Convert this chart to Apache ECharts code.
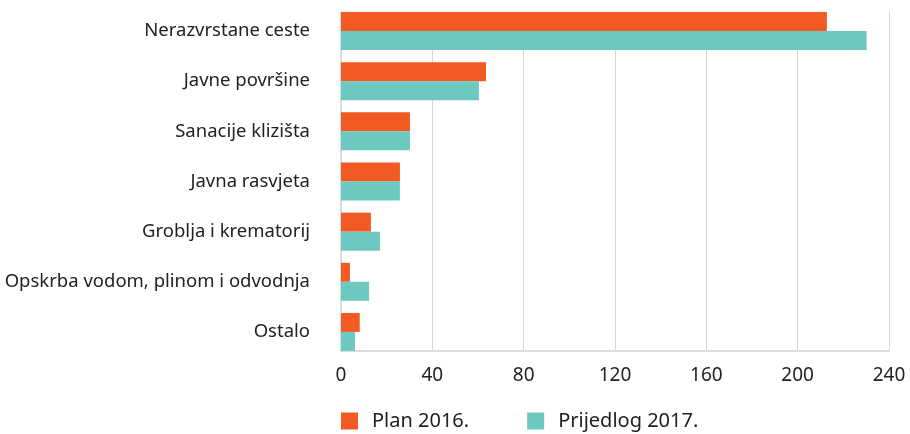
<!DOCTYPE html>
<html>
<head>
<meta charset="utf-8">
<script src="https://cdn.jsdelivr.net/npm/echarts@6/dist/echarts.min.js"></script>
<style>
  html, body { margin: 0; padding: 0; background: #fff; }
  #chart { width: 910px; height: 434px; }
</style>
</head>
<body>
<div id="chart"></div>
<script>
// kategorije, odozgo prema dolje
const categories = [
  'Nerazvrstane ceste',
  'Javne površine',
  'Sanacije klizišta',
  'Javna rasvjeta',
  'Groblja i krematorij',
  'Opskrba vodom, plinom i odvodnja',
  'Ostalo'
];
const plan2016 = [212.8, 63.5, 30.2, 25.8, 13.1, 3.9, 8.2];
const prijedlog2017 = [230.2, 60.4, 30.2, 25.8, 17.1, 12.3, 6.1];
const xTicks = [0, 240, 40]; // min, max, interval

const fontFamily = '"Noto Sans", sans-serif';
const textColor = '#222';

let chart = echarts.init(document.getElementById('chart'));

let option = {
  animation: false,
  textStyle: { fontFamily: fontFamily },
  legend: {
    data: ['Plan 2016.', 'Prijedlog 2017.'],
    left: 341,
    top: 411,
    padding: 0,
    icon: 'rect',
    itemWidth: 17,
    itemHeight: 17,
    itemGap: 58,
    textStyle: { fontSize: 20, color: textColor, fontFamily: fontFamily, padding: [0, 0, 0, 9] }
  },
  // grid 0 -> mreza i os, grid 1 -> stupci
  grid: [
    { left: 341, right: 21, top: 12, height: 339, containLabel: false, outerBoundsMode: 'none' },
    { left: 341, right: 21, top: 6, height: 351, containLabel: false, outerBoundsMode: 'none' }
  ],
  xAxis: [
    {
      gridIndex: 0,
      type: 'value',
      min: xTicks[0],
      max: xTicks[1],
      interval: xTicks[2],
      axisLine: { show: true, lineStyle: { color: '#dcdcdc', width: 2 } },
      axisTick: { show: false },
      splitLine: { show: true, lineStyle: { color: '#d6d6d6', width: 1 } },
      axisLabel: { fontSize: 19, color: textColor, margin: 15, fontFamily: fontFamily }
    },
    {
      gridIndex: 1,
      type: 'value',
      min: xTicks[0],
      max: xTicks[1],
      show: false
    }
  ],
  yAxis: [
    {
      gridIndex: 0,
      type: 'value',
      axisLine: { show: true, lineStyle: { color: '#dcdcdc', width: 2 } },
      axisTick: { show: false },
      axisLabel: { show: false },
      splitLine: { show: false }
    },
    {
      gridIndex: 1,
      type: 'category',
      data: categories,
      inverse: true,
      axisLine: { show: false },
      axisTick: { show: false },
      splitLine: { show: false },
      axisLabel: { fontSize: 18.5, color: textColor, margin: 31, fontFamily: fontFamily }
    }
  ],
  series: [
    {
      name: 'Plan 2016.',
      type: 'bar',
      xAxisIndex: 1,
      yAxisIndex: 1,
      data: plan2016,
      barWidth: 19,
      barGap: '0%',
      itemStyle: { color: '#F15A22' }
    },
    {
      name: 'Prijedlog 2017.',
      type: 'bar',
      xAxisIndex: 1,
      yAxisIndex: 1,
      data: prijedlog2017,
      barWidth: 19,
      barGap: '0%',
      itemStyle: { color: '#6DC9BF' }
    }
  ]
};

chart.setOption(option);
</script>
</body>
</html>
